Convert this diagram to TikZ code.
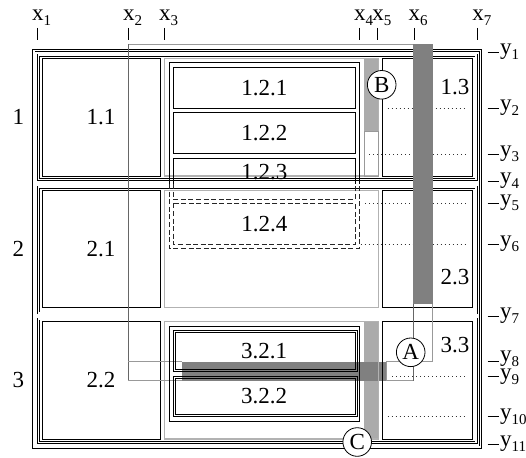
\documentclass[tikz,border=0pt]{standalone}
\usepackage{fontspec}
\setmainfont{Liberation Serif}
\newcommand\mysub[1]{\raisebox{-5pt}{\fontsize{15}{15}\selectfont #1}}
\begin{document}
\begin{tikzpicture}[x=1pt,y=-1pt,
  dblframe/.style={draw=black,line width=0.6pt,double=white,double distance=1.6pt},
  cellbox/.style={draw=black,line width=0.8pt},
  graycell/.style={draw=black!30,line width=1.2pt},
  ghost/.style={draw=black!40,line width=0.8pt},
  ghostdark/.style={draw=black!60,line width=0.8pt},
  darkbar/.style={fill=black!50},
  lightbar/.style={fill=black!33},
  dotline/.style={draw=black!80,line width=0.8pt,dash pattern=on 0.8pt off 3.2pt},
  dashline/.style={draw=black!85,line width=0.8pt,dash pattern=on 5pt off 2.6pt},
  lbl/.style={font=\fontsize{23}{26}\selectfont,inner sep=0pt},
  tickline/.style={draw=black,line width=0.8pt},
  circlbl/.style={circle,draw=black,line width=0.8pt,fill=white,minimum size=28.6pt,inner sep=0pt,font=\fontsize{23}{26}\selectfont}]
\useasboundingbox (0,0) rectangle (526,457);
% table and row frames
\draw[dblframe] (33.7,50.5) rectangle (480.6,447.2);
\draw[dblframe] (38.4,55.2) rectangle (476.2,179.5);
\draw[dblframe] (38.4,187.2) rectangle (476.2,312.9);
\draw[dblframe] (38.4,318.9) rectangle (476.2,442.6);
% light bars
\fill[lightbar] (364.3,58.3) rectangle (378.3,131.7);
\fill[lightbar] (364.3,321.7) rectangle (378.3,439);
% dark horizontal bar
\fill[darkbar] (181.7,361.7) rectangle (386.7,380.7);
% cells
\draw[cellbox] (42.3,58.3) rectangle (160,176);
\draw[graycell] (164.3,58.3) rectangle (378.3,176);
\draw[cellbox] (382.3,58.3) rectangle (472.7,176);
\draw[cellbox] (42.3,190.7) rectangle (160,307.7);
\draw[graycell] (164.3,190.7) rectangle (378.3,307.7);
\draw[cellbox] (382.3,190.7) rectangle (472.7,307.7);
\draw[cellbox] (42.3,321.7) rectangle (160,439);
\draw[graycell] (164.3,321.7) rectangle (378.3,439);
\draw[cellbox] (382.3,321.7) rectangle (472.7,439);
\draw[ghost] (364.3,131.7) rectangle (378.3,176);
% ghost outlines
\draw[ghost] (128.3,44.5) -- (413.3,44.5);
\draw[ghostdark] (128.3,44.5) -- (128.3,380.7);
\draw[ghost] (128.3,361.7) -- (181.7,361.7);
\draw[ghost] (128.3,380.7) -- (181.7,380.7);
\draw[ghost] (386.7,380.7) -- (386.7,361.7) -- (432.3,361.7) -- (432.3,44.5);
\draw[ghost] (386.7,380.7) -- (413.3,380.7);
\draw[ghostdark] (413.3,304) -- (413.3,380.7);
% nested table in row 1
\draw[cellbox] (169.3,184) -- (169.3,62.7) -- (359.3,62.7) -- (359.3,184);
\draw[cellbox] (173.3,67.3) rectangle (355.3,108.3);
\draw[cellbox] (173.3,112.7) rectangle (355.3,153.3);
\draw[cellbox] (173.3,184) -- (173.3,158.3) -- (355.3,158.3) -- (355.3,184);
\draw[dashline] (169.3,184) -- (169.3,248.3) -- (359.3,248.3) -- (359.3,184);
\draw[dashline] (173.3,184) -- (173.3,199.3) -- (355.3,199.3) -- (355.3,184);
\draw[dashline] (173.3,203.3) rectangle (355.3,244.3);
% nested table in row 3
\draw[cellbox] (169.3,326) rectangle (359.3,421.3);
\draw[cellbox,line width=0.6pt] (173.3,330.7) rectangle (357.3,371);
\draw[cellbox,line width=0.6pt] (175.3,332.7) rectangle (355.3,369);
\draw[cellbox,line width=0.6pt] (173.3,376) rectangle (357.3,416.7);
\draw[cellbox,line width=0.6pt] (175.3,378) rectangle (355.3,414.7);
% dotted lines
\draw[dotline] (387.7,108.3) -- (466.7,108.3);
\draw[dotline] (369.3,154) -- (466.7,154);
\draw[dotline] (365,203.3) -- (466.7,203.3);
\draw[dotline] (360.5,244.3) -- (466.7,244.3);
\draw[dotline] (392,376) -- (466.7,376);
\draw[dotline] (387.7,416.7) -- (466.7,416.7);
% dark vertical bar
\fill[darkbar] (413.3,44) rectangle (432.7,304);
% circles
\node[circlbl] (A) at (410.7,352.3) {A};
\node[circlbl] (B) at (381.7,84.8) {B};
\node[circlbl] (C) at (357.2,442) {C};
% cell labels
\node[lbl] (t11) at (101,117.3) {1.1};
\node[lbl] (t121) at (264.3,87.8) {1.2.1};
\node[lbl] (t122) at (264.3,133) {1.2.2};
\node[lbl] (t123) at (264.3,172) {1.2.3};
\node[lbl] (t124) at (264.3,223.8) {1.2.4};
\node[lbl] (t13) at (455,87.3) {1.3};
\node[lbl] (t21) at (101,249.2) {2.1};
\node[lbl] (t23) at (455,277.3) {2.3};
\node[lbl] (t22) at (101,380.3) {2.2};
\node[lbl] (t321) at (264,350.8) {3.2.1};
\node[lbl] (t322) at (264,396.3) {3.2.2};
\node[lbl] (t33) at (455,345) {3.3};
\node[lbl] (r1) at (18.3,117.3) {1};
\node[lbl] (r2) at (18.3,249.3) {2};
\node[lbl] (r3) at (18.3,380) {3};
% x ticks and labels
\foreach \xx/\nm in {37.3/1,128.3/2,164.3/3,359.3/4,377.7/5,414/6,477.7/7}{
  \draw[tickline] (\xx,28) -- (\xx,40);
  \node[lbl,anchor=base west] (lx\nm) at (\xx-5.5,20.3) {x\mysub{\nm}};
}
% y ticks and labels
\foreach \yy/\ly/\nm in {52.7/52.7/1,108.3/108.3/2,154/154/3,181.7/181.7/4,203.3/203.3/5,244/244/6,316.5/316.5/7,361.7/359.2/8,376/377.5/9,416.7/416.7/10,444/444/11}{
  \draw[tickline] (487.7,\yy) -- (499.3,\yy);
  \node[lbl,anchor=mid west] (ly\nm) at (500,\ly) {y\mysub{\nm}};
}
\end{tikzpicture}
\end{document}
